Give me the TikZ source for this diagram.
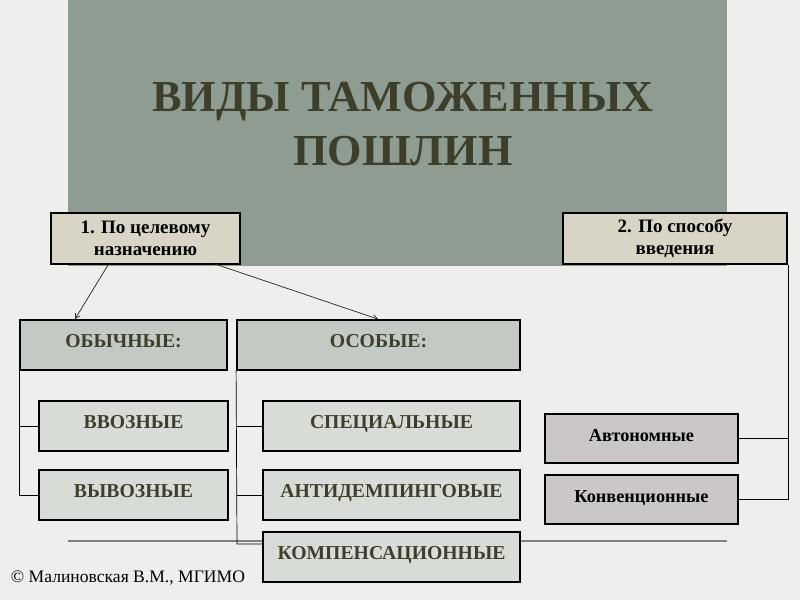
\documentclass[tikz,border=0pt]{standalone}
\usepackage{fontspec}
\setmainfont{Liberation Serif}
\usetikzlibrary{positioning,arrows}
\definecolor{bgc}{HTML}{EEEEEC}
\definecolor{ttl}{HTML}{8F9C92}
\definecolor{hdr}{HTML}{D8D5C6}
\definecolor{grp}{HTML}{C3C9C3}
\definecolor{itm}{HTML}{D7DCD7}
\definecolor{rgt}{HTML}{CBC7C8}
\definecolor{txt}{HTML}{3E3F2A}
\begin{document}
\begin{tikzpicture}
	[x=0.025cm,y=-0.025cm,
	bx/.style={draw=black,line width=1.3pt,text=txt,text height=1.6ex,text depth=.7ex,font=\bfseries\fontsize{14}{16}\selectfont},
	ln/.style={draw=black,line width=0.5pt}]
	%%%%% BACKGROUND
	\fill[bgc] (0,0) rectangle (800,600);
	\fill[ttl] (68,0) rectangle (727,266);
	\draw[gray,line width=1pt] (68,541) -- (727,541);
	\node[font=\bfseries\fontsize{31.5}{38}\selectfont,text=txt,align=center] (title) at (403,124) {ВИДЫ ТАМОЖЕННЫХ\\ПОШЛИН};
	%%%%% HEADERS
	\node[bx,fill=hdr,minimum width=189*0.025cm,minimum height=51*0.025cm,align=center,text=black,text height=,text depth=,font=\bfseries\fontsize{13.5}{16}\selectfont] (cel) at (145.5,238.5) {1. По целевому\\назначению};
	\node[bx,fill=hdr,minimum width=224*0.025cm,minimum height=51*0.025cm,align=center,text=black,text height=,text depth=,font=\bfseries\fontsize{13.5}{16}\selectfont] (spos) at (675,238.5) {2. По способу\\введения};
	%%%%% GROUPS
	\node[bx,fill=grp,minimum width=207*0.025cm,minimum height=50*0.025cm] (obych) at (123.5,345) {ОБЫЧНЫЕ:};
	\node[bx,fill=grp,minimum width=283*0.025cm,minimum height=50*0.025cm] (osob) at (378.5,345) {ОСОБЫЕ:};
	\foreach \nm/\lbl/\y in {vvoz/ВВОЗНЫЕ/426,vyvoz/ВЫВОЗНЫЕ/495}
	{
	\node[bx,fill=itm,minimum width=189*0.025cm,minimum height=50*0.025cm] (\nm) at (133.5,\y) {\lbl};
	\draw[ln] (\nm.west) -- ++(-19,0) coordinate (\nm l);
	};
	\foreach \nm/\lbl/\y in {spec/СПЕЦИАЛЬНЫЕ/426,anti/АНТИДЕМПИНГОВЫЕ/495,komp/КОМПЕНСАЦИОННЫЕ/557}
	{
	\node[bx,fill=itm,minimum width=257*0.025cm,minimum height=50*0.025cm] (\nm) at (391.5,\y) {\lbl};
	};
	\foreach \nm/\lbl/\y in {avto/Автономные/438.5,konv/Конвенционные/499.5}
	{
	\node[bx,fill=rgt,text=black,minimum width=193*0.025cm,minimum height=49*0.025cm,font=\bfseries\fontsize{13}{15}\selectfont] (\nm) at (641.5,\y) {\lbl};
	};
	%%%%% CONNECTORS
	\draw[ln] (obych.south west) |- (vyvoz.west);
	\coordinate (ko) at (237,544);
	\draw[ln] (osob.south west) -- (ko) -- (komp.west |- ko);
	\draw[ln] (spec.west) -- (spec.west -| ko);
	\draw[ln] (anti.west) -- (anti.west -| ko);
	\draw[ln] (spos.south east) |- (konv.east);
	\draw[ln] (avto.east) -- (avto.east -| spos.south east);
	\draw[->,>=angle 60,ln,gray!30!black] (108,265) -- (obych.north -| 75,0);
	\draw[->,>=angle 60,ln,gray!30!black] (215,264) -- (osob.north -| 378,0);
	%%%%% FOOTER
	\node[anchor=west,font=\fontsize{12.5}{15}\selectfont] (copy) at (6,578) {© Малиновская В.М., МГИМО};
\end{tikzpicture}
\end{document}
